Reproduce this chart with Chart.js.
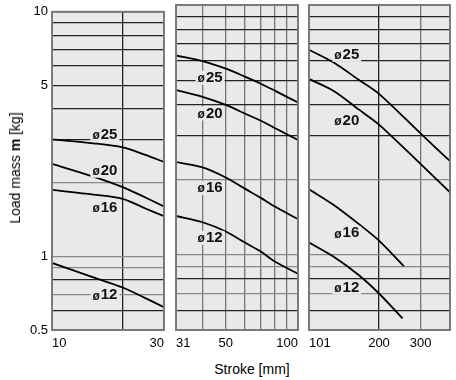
<!DOCTYPE html>
<html>
<head>
<meta charset="utf-8">
<script src="https://cdn.jsdelivr.net/npm/chart.js@4.4.0/dist/chart.umd.min.js"></script>
<style>
  body { margin: 0; background: #fff; width: 456px; height: 380px; position: relative; overflow: hidden; font-family: Arial, "Liberation Sans", sans-serif; }
  canvas { position: absolute; top: 0; }
  #c1 { left: 0; }
  #c2 { left: 170px; }
  #c3 { left: 303px; }
  #xtitle { position: absolute; left: 52px; width: 400px; top: 361px; text-align: center; font-size: 14px; color: #000; }
  #ytitle { position: absolute; left: 15px; top: 168px; transform: translate(-50%, -50%) rotate(-90deg); white-space: nowrap; font-size: 14px; color: #000; }
</style>
</head>
<body>
<canvas id="c1" width="170" height="356"></canvas>
<canvas id="c2" width="134" height="356"></canvas>
<canvas id="c3" width="153" height="356"></canvas>
<div id="ytitle">Load mass <b>m</b> [kg]</div>
<div id="xtitle">Stroke [mm]</div>
<script>
// y axis (shared)
var yGrid = [0.5, 0.6, 0.7, 0.8, 0.9, 1, 2, 3, 4, 5, 6, 7, 8, 9, 10];
var yTickLabels = [0.5, 1, 5, 10];
var yGreyLines = [0.7, 0.9, 1, 2];

var dLabels = ['25', '20', '16', '12'];

// panel 1 : 10 - 30
var p1Grid = [10, 20, 30];
var p1Labels = [10, 30];
var p1Dark = [20];
var p1Stroke = [10, 15, 20, 25, 30];
var p1D25 = [3.01, 2.90, 2.79, 2.60, 2.43];
var p1D20 = [2.39, 2.12, 1.92, 1.74, 1.60];
var p1D16 = [1.87, 1.79, 1.72, 1.57, 1.46];
var p1D12 = [0.94, 0.82, 0.746, 0.675, 0.62];
var p1LabelX = 16.8;
var p1LabelY = [3.15, 2.24, 1.58, 0.693];

// panel 2 : 31 - 100
var p2Grid = [31, 40, 50, 60, 70, 80, 90, 100];
var p2Labels = [31, 50, 100];
var p2Dark = [];
var p2Stroke = [31, 40, 50, 60, 70, 80, 100];
var p2D25 = [6.28, 5.96, 5.56, 5.17, 4.84, 4.54, 4.07];
var p2D20 = [4.56, 4.29, 3.98, 3.68, 3.44, 3.22, 2.88];
var p2D16 = [2.35, 2.24, 2.04, 1.84, 1.69, 1.56, 1.39];
var p2D12 = [1.43, 1.35, 1.24, 1.12, 1.03, 0.94, 0.84];
var p2LabelX = 43;
var p2LabelY = [5.12, 3.68, 1.85, 1.17];

// panel 3 : 101 - 400
var p3Grid = [101, 200, 300, 400];
var p3Labels = [101, 200, 300];
var p3Dark = [200];
var p3Stroke = [101, 129, 164, 200, 300, 400];
var p3D25 = [6.62, 5.87, 5.02, 4.41, 3.06, 2.37];
var p3D20 = [5.06, 4.52, 3.82, 3.32, 2.31, 1.78];
var p3Stroke16 = [101, 129, 164, 200, 255];
var p3D16 = [1.83, 1.58, 1.33, 1.14, 0.90];
var p3Stroke12 = [101, 129, 164, 200, 252];
var p3D12 = [1.12, 0.98, 0.83, 0.70, 0.556];
var p3LabelX = 146;
var p3LabelY = [6.32, 3.45, 1.22, 0.74];

var plotBg = '#e9e9e9';

function pts(xs, ys) {
  return xs.map(function (x, i) { return { x: x, y: ys[i] }; });
}

function panelPlugin(labelX, labelY) {
  return {
    id: 'panel',
    beforeDraw: function (chart) {
      var a = chart.chartArea, c = chart.ctx;
      c.save();
      c.fillStyle = plotBg;
      c.fillRect(a.left, a.top, a.width, a.height);
      c.restore();
    },
    afterDatasetsDraw: function (chart) {
      var c = chart.ctx, xs = chart.scales.x, ys = chart.scales.y;
      c.save();
      labelY.forEach(function (v, i) {
        var px = xs.getPixelForValue(labelX), py = ys.getPixelForValue(v);
        c.font = 'bold 12px Arial';
        var w1 = c.measureText('ø').width;
        c.font = 'bold 15px Arial';
        var w2 = c.measureText(dLabels[i]).width;
        var w = w1 + w2 + 1;
        c.fillStyle = plotBg;
        c.fillRect(px - w / 2 - 2, py - 7, w + 4, 14);
        c.fillStyle = '#111';
        c.textBaseline = 'middle';
        c.textAlign = 'left';
        c.font = 'bold 12px Arial';
        c.fillText('ø', px - w / 2, py + 1);
        c.font = 'bold 15px Arial';
        c.fillText(dLabels[i], px - w / 2 + w1 + 1, py);
      });
      var a = chart.chartArea;
      c.strokeStyle = '#7a7a7a';
      c.lineWidth = 2;
      c.strokeRect(a.left, a.top, a.width, a.height);
      c.restore();
    }
  };
}

function makeChart(id, xMin, xMax, xGrid, xLabels, xDark, series, labelX, labelY, showY) {
  var ctx = document.getElementById(id).getContext('2d');
  return new Chart(ctx, {
    type: 'line',
    data: {
      datasets: series.map(function (s) {
        return {
          data: s,
          borderColor: '#000',
          borderWidth: 1.8,
          pointRadius: 0,
          fill: false,
          tension: 0.3
        };
      })
    },
    options: {
      responsive: false,
      animation: false,
      devicePixelRatio: 1,
      layout: { padding: { top: 5, right: 4, left: showY ? 0 : 4, bottom: 0 } },
      plugins: { legend: { display: false }, tooltip: { enabled: false } },
      scales: {
        x: {
          type: 'logarithmic',
          min: xMin,
          max: xMax,
          afterBuildTicks: function (s) { s.ticks = xGrid.map(function (v) { return { value: v }; }); },
          afterFit: function (s) { s.height = 26; },
          border: { display: false },
          grid: {
            drawTicks: false,
            lineWidth: 1.3,
            color: function (c) { return c.tick && xDark.indexOf(c.tick.value) >= 0 ? '#222' : '#777'; }
          },
          ticks: {
            autoSkip: false,
            maxRotation: 0,
            align: 'inner',
            padding: 6,
            color: '#000',
            font: { size: 13, family: 'Arial' },
            callback: function (v) { return xLabels.indexOf(v) >= 0 ? String(v) : ''; }
          }
        },
        y: {
          type: 'logarithmic',
          min: 0.5,
          max: 10,
          afterBuildTicks: function (s) { s.ticks = yGrid.map(function (v) { return { value: v }; }); },
          afterFit: function (s) { s.width = showY ? 52 : 0; },
          border: { display: false },
          grid: {
            drawTicks: false,
            lineWidth: 1.3,
            color: function (c) { return c.tick && yGreyLines.indexOf(c.tick.value) >= 0 ? '#888' : '#222'; }
          },
          ticks: {
            display: showY,
            autoSkip: false,
            padding: 4,
            color: '#000',
            font: { size: 13, family: 'Arial' },
            callback: function (v) { return yTickLabels.indexOf(v) >= 0 ? String(v) : ''; }
          }
        }
      }
    },
    plugins: [panelPlugin(labelX, labelY)]
  });
}

makeChart('c1', 10, 30, p1Grid, p1Labels, p1Dark,
  [pts(p1Stroke, p1D25), pts(p1Stroke, p1D20), pts(p1Stroke, p1D16), pts(p1Stroke, p1D12)],
  p1LabelX, p1LabelY, true);
makeChart('c2', 31, 100, p2Grid, p2Labels, p2Dark,
  [pts(p2Stroke, p2D25), pts(p2Stroke, p2D20), pts(p2Stroke, p2D16), pts(p2Stroke, p2D12)],
  p2LabelX, p2LabelY, false);
makeChart('c3', 101, 400, p3Grid, p3Labels, p3Dark,
  [pts(p3Stroke, p3D25), pts(p3Stroke, p3D20), pts(p3Stroke16, p3D16), pts(p3Stroke12, p3D12)],
  p3LabelX, p3LabelY, false);
</script>
</body>
</html>
